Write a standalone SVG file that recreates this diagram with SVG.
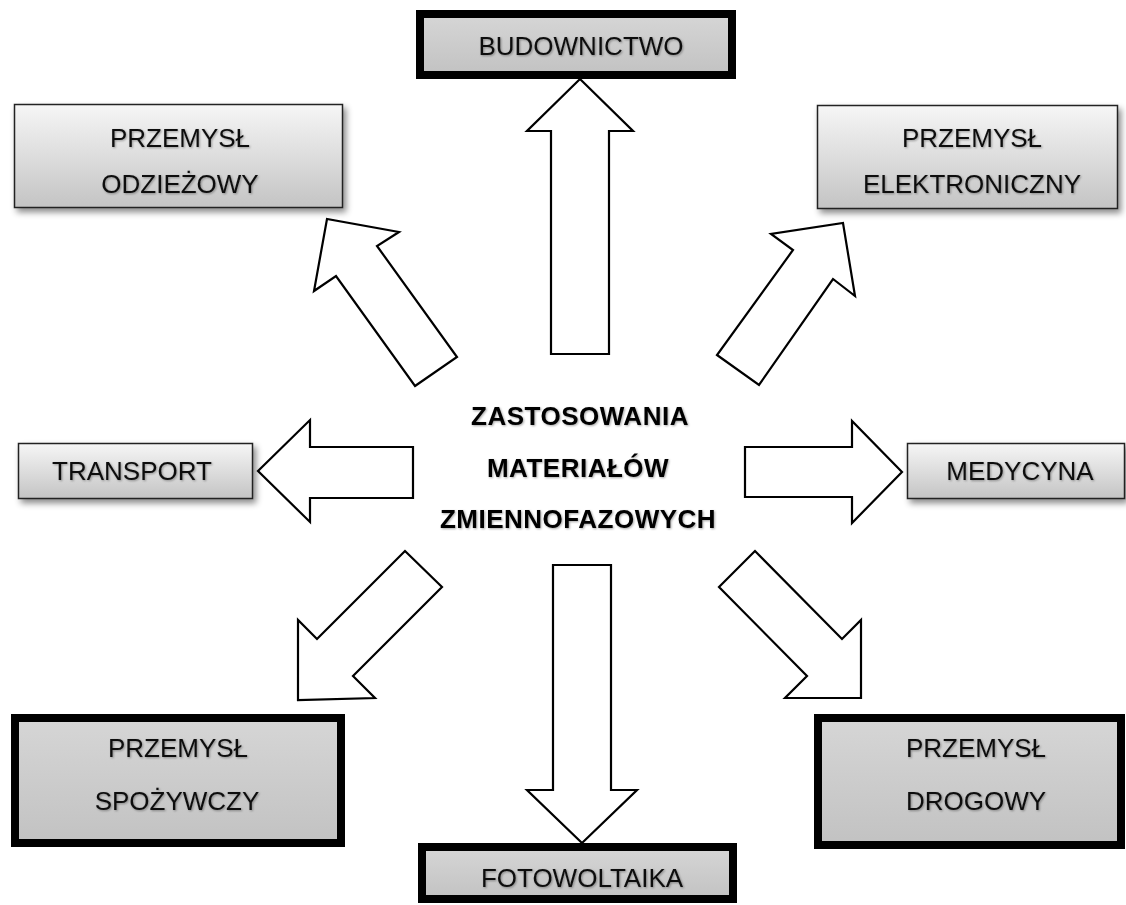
<svg xmlns="http://www.w3.org/2000/svg" width="1126" height="905" viewBox="0 0 1126 905">
<defs>
<linearGradient id="gThin" x1="0" y1="0" x2="0" y2="1">
<stop offset="0" stop-color="#f6f6f6"/>
<stop offset="1" stop-color="#c4c4c4"/>
</linearGradient>
<linearGradient id="gThick" x1="0" y1="0" x2="0" y2="1">
<stop offset="0" stop-color="#d6d6d6"/>
<stop offset="1" stop-color="#c2c2c2"/>
</linearGradient>
<filter id="shadow" x="-10%" y="-20%" width="125%" height="150%">
<feDropShadow dx="3" dy="4" stdDeviation="3" flood-color="#000" flood-opacity="0.45"/>
</filter>
<filter id="tshadow" x="-5%" y="-20%" width="110%" height="150%">
<feDropShadow dx="1" dy="1" stdDeviation="0.8" flood-color="#000" flood-opacity="0.35"/>
</filter>
</defs>
<style>
.thin{fill:url(#gThin);stroke:#222;stroke-width:1.5;filter:url(#shadow)}
.thick{fill:url(#gThick);stroke:#000;stroke-width:8}
.lbl{font-family:"Liberation Sans",Arial,sans-serif;font-size:26px;fill:#111;text-anchor:middle;filter:url(#tshadow)}
.ctr{font-family:"Liberation Sans",Arial,sans-serif;font-size:26px;font-weight:bold;fill:#000;text-anchor:middle;letter-spacing:0.5px;filter:url(#tshadow)}
.arr{fill:#fff;stroke:#000;stroke-width:2.2;stroke-linejoin:miter}
</style>
<rect width="1126" height="905" fill="#fff"/>

<g id="connectors">
<polygon class="arr" points="580,79 633,131 609,131 609,354 551,354 551,131 527,131"/>
<polygon class="arr" points="553,565 611,565 611,790 637,790 582,843 527,790 553,790"/>
<polygon class="arr" points="413,447 413,498 310,498 310,522 258,471 310,420 310,447"/>
<polygon class="arr" points="745,447 852,447 852,421 902,472 852,523 852,497 745,497"/>
<polygon class="arr" points="415,386 457,357 377,246 399,232 327,219 314,291 336,276"/>
<polygon class="arr" points="717,355 759,385 833,279 855,296 843,223 771,234 793,250"/>
<polygon class="arr" points="405,551 442,587 353,676 375,698 298,700 298,620 317,639"/>
<polygon class="arr" points="755,551 719,587 807,676 785,698 861,698 861,620 842,639"/>
</g>

<g id="center">
<text class="ctr" x="580" y="425">ZASTOSOWANIA</text>
<text class="ctr" x="578" y="477">MATERIAŁÓW</text>
<text class="ctr" x="578" y="528">ZMIENNOFAZOWYCH</text>
</g>

<g id="budownictwo">
<rect class="thick" x="420" y="14" width="312" height="61"/>
<text class="lbl" x="581" y="55">BUDOWNICTWO</text>
</g>

<g id="odziezowy">
<rect class="thin" x="14.5" y="104.5" width="328" height="103"/>
<text class="lbl" x="180" y="147">PRZEMYSŁ</text>
<text class="lbl" x="180" y="193">ODZIEŻOWY</text>
</g>

<g id="elektroniczny">
<rect class="thin" x="817.5" y="105.5" width="300" height="103"/>
<text class="lbl" x="972" y="147">PRZEMYSŁ</text>
<text class="lbl" x="972" y="193">ELEKTRONICZNY</text>
</g>

<g id="transport">
<rect class="thin" x="18.5" y="443.5" width="234" height="55"/>
<text class="lbl" x="132" y="480">TRANSPORT</text>
</g>

<g id="medycyna">
<rect class="thin" x="907.5" y="443.5" width="217" height="55"/>
<text class="lbl" x="1020" y="480">MEDYCYNA</text>
</g>

<g id="spozywczy">
<rect class="thick" x="15" y="718" width="326" height="125"/>
<text class="lbl" x="178" y="757">PRZEMYSŁ</text>
<text class="lbl" x="177" y="810">SPOŻYWCZY</text>
</g>

<g id="drogowy">
<rect class="thick" x="818" y="718" width="303" height="127"/>
<text class="lbl" x="976" y="757">PRZEMYSŁ</text>
<text class="lbl" x="976" y="810">DROGOWY</text>
</g>

<g id="fotowoltaika">
<rect class="thick" x="422" y="847" width="311" height="52"/>
<text class="lbl" x="582" y="887">FOTOWOLTAIKA</text>
</g>
</svg>
